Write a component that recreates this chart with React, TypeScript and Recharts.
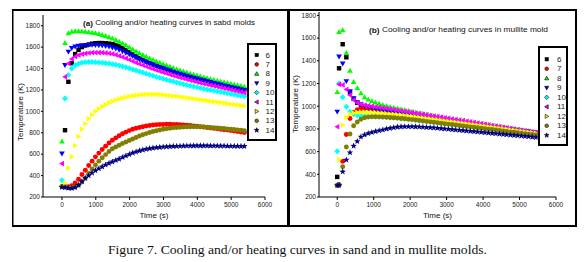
import React from 'react';
import { ScatterChart, Scatter, XAxis, YAxis } from 'recharts';

// ---------- series meta ----------
const seriesNames = ['6', '7', '8', '9', '10', '11', '12', '13', '14'];
const seriesColors = ['#000000', '#ff0000', '#00ff00', '#0000ff', '#00ffff', '#ff00ff', '#ffff00', '#808000', '#000080'];
const seriesShapes = ['square', 'circle', 'up', 'down', 'diamond', 'left', 'right', 'circle', 'star'];

// ---------- (a) sand molds ----------
const sandTimes = [0, 90, 190, 290, 390, 490, 590, 690, 790, 890,
  990, 1090, 1190, 1290, 1390, 1490, 1590, 1690, 1790, 1890,
  1990, 2090, 2190, 2290, 2390, 2490, 2590, 2690, 2790, 2890,
  2990, 3090, 3190, 3290, 3390, 3490, 3590, 3690, 3790, 3890,
  3990, 4090, 4190, 4290, 4390, 4490, 4590, 4690, 4790, 4890,
  4990, 5090, 5190, 5290, 5390];

const sand6 = [null, 824, 1276, 1450, 1535, 1575, 1600, 1615, 1625, 1632,
  1636, 1638, 1638, 1636, 1633, 1628, 1620, 1608, 1592, 1573,
  1552, 1532, 1514, 1497, 1481, 1466, 1452, 1439, 1427, 1415,
  1404, 1394, 1384, 1374, 1364, 1354, 1345, 1336, 1327, 1318,
  1309, 1301, 1293, 1285, 1277, 1269, 1261, 1253, 1246, 1239,
  1232, 1225, 1218, 1211, 1204];
const sand7 = [300, 297, 295, 305, 330, 365, 410, 450, 495, 535,
  575, 610, 643, 675, 705, 730, 752, 772, 790, 806,
  820, 832, 842, 850, 857, 863, 868, 872, 875, 877,
  878, 879, 879, 878, 877, 875, 873, 870, 867, 864,
  860, 857, 853, 849, 845, 841, 837, 833, 829, 825,
  821, 817, 812, 808, 803];
const sand8 = [720, 1640, 1730, 1745, 1750, 1750, 1748, 1745, 1741, 1736,
  1730, 1723, 1715, 1705, 1694, 1682, 1668, 1652, 1636, 1618,
  1598, 1578, 1560, 1543, 1527, 1511, 1496, 1482, 1468, 1455,
  1442, 1430, 1418, 1406, 1395, 1384, 1374, 1364, 1354, 1345,
  1336, 1327, 1318, 1310, 1302, 1294, 1286, 1279, 1272, 1265,
  1258, 1251, 1244, 1237, 1230];
const sand9 = [606, 1432, 1557, 1590, 1605, 1612, 1616, 1618, 1620, 1620,
  1619, 1617, 1614, 1610, 1604, 1596, 1586, 1574, 1561, 1547,
  1532, 1516, 1500, 1485, 1471, 1458, 1446, 1434, 1422, 1411,
  1400, 1390, 1380, 1370, 1360, 1350, 1341, 1332, 1323, 1314,
  1305, 1297, 1289, 1281, 1273, 1265, 1257, 1249, 1241, 1234,
  1227, 1220, 1213, 1206, 1199];
const sand10 = [356, 1120, 1339, 1400, 1430, 1445, 1453, 1458, 1460, 1460,
  1459, 1457, 1454, 1450, 1446, 1441, 1435, 1428, 1420, 1411,
  1402, 1392, 1382, 1372, 1362, 1352, 1342, 1332, 1322, 1313,
  1304, 1295, 1286, 1278, 1270, 1262, 1254, 1246, 1239, 1232,
  1225, 1218, 1211, 1205, 1199, 1193, 1187, 1181, 1175, 1169,
  1163, 1157, 1151, 1145, 1139];
const sand11 = [512, 1323, 1448, 1490, 1512, 1525, 1535, 1541, 1545, 1548,
  1549, 1549, 1548, 1546, 1542, 1536, 1528, 1518, 1507, 1495,
  1482, 1469, 1456, 1443, 1431, 1419, 1407, 1396, 1385, 1374,
  1364, 1354, 1344, 1334, 1325, 1316, 1307, 1298, 1290, 1282,
  1274, 1266, 1258, 1251, 1244, 1237, 1230, 1223, 1216, 1209,
  1202, 1195, 1188, 1181, 1174];
const sand12 = [295, 330, 470, 575, 680, 765, 835, 885, 930, 968,
  1000, 1024, 1045, 1063, 1079, 1093, 1105, 1115, 1124, 1132,
  1139, 1145, 1150, 1153, 1156, 1158, 1159, 1159, 1158, 1156,
  1153, 1150, 1147, 1143, 1139, 1135, 1131, 1127, 1122, 1118,
  1113, 1109, 1104, 1100, 1095, 1091, 1086, 1082, 1077, 1073,
  1068, 1064, 1059, 1055, 1050];
const sand13 = [295, 290, 285, 286, 292, 310, 340, 378, 420, 462,
  500, 535, 566, 596, 625, 650, 667, 683, 699, 713,
  727, 742, 756, 769, 781, 792, 802, 811, 819, 826,
  832, 837, 842, 846, 849, 852, 854, 855, 856, 856,
  856, 855, 853, 851, 849, 847, 844, 842, 839, 836,
  833, 830, 827, 823, 819];
const sand14 = [292, 290, 283, 281, 290, 312, 345, 375, 400, 425,
  448, 465, 483, 500, 515, 529, 542, 555, 570, 585,
  598, 612, 622, 632, 640, 647, 653, 658, 662, 665,
  668, 670, 672, 674, 675, 676, 677, 678, 678, 679,
  679, 679, 679, 679, 678, 678, 678, 677, 677, 676,
  676, 675, 675, 674, 674];

// ---------- (b) mullite mold ----------
const mulliteTimes = [0, 50, 150, 250, 350, 450, 550, 650, 750, 850,
  950, 1050, 1150, 1250, 1350, 1450, 1550, 1650, 1750, 1850,
  1950, 2050, 2150, 2250, 2350, 2450, 2550, 2650, 2750, 2850,
  2950, 3050, 3150, 3250, 3350, 3450, 3550, 3650, 3750, 3850,
  3950, 4050, 4150, 4250, 4350, 4450, 4550, 4650, 4750, 4850,
  4950, 5050, 5150, 5250, 5350, 5450];

const mull6 = [377, 1334, 1546, 1431, 1120, 1065, 1030, 1012, 1000, 992,
  973, 968, 962, 956, 950, 944, 938, 932, 926, 920,
  914, 908, 903, 898, 893, 888, 883, 878, 873, 868,
  863, 858, 853, 849, 845, 841, 837, 833, 829, 825,
  821, 817, 813, 809, 805, 801, 797, 793, 789, 785,
  781, 777, 773, 769, 765, 761];
const mull7 = [300, 303, 515, 751, 892, 945, 970, 978, 980, 978,
  975, 970, 964, 958, 952, 946, 940, 934, 928, 922,
  916, 910, 905, 900, 895, 890, 885, 880, 875, 870,
  865, 860, 855, 851, 847, 843, 839, 835, 831, 827,
  823, 819, 815, 811, 807, 803, 799, 795, 791, 787,
  783, 779, 775, 771, 767, 763];
const mull8 = [1125, 1655, 1670, 1470, 1313, 1215, 1160, 1115, 1080, 1060,
  1045, 1033, 1022, 1012, 1003, 995, 988, 981, 974, 967,
  960, 953, 946, 940, 934, 928, 922, 916, 910, 904,
  898, 892, 887, 882, 877, 872, 867, 862, 857, 852,
  847, 842, 837, 832, 827, 822, 817, 812, 807, 802,
  797, 792, 787, 782, 777, 772];
const mull9 = [951, 1437, 1375, 1220, 1130, 1070, 1035, 1015, 1002, 993,
  985, 978, 971, 965, 959, 953, 947, 941, 935, 929,
  923, 917, 911, 906, 901, 896, 891, 886, 881, 876,
  871, 866, 861, 856, 852, 848, 844, 840, 836, 832,
  828, 824, 820, 816, 812, 808, 804, 800, 796, 792,
  788, 784, 780, 776, 772, 768];
const mull10 = [603, 1201, 1078, 995, 951, 930, 920, 915, 913, 912,
  911, 910, 908, 906, 904, 901, 898, 895, 892, 889,
  886, 883, 879, 875, 871, 867, 863, 859, 855, 851,
  847, 843, 839, 835, 831, 827, 823, 819, 815, 811,
  807, 803, 799, 795, 791, 787, 783, 779, 775, 771,
  767, 763, 759, 755, 752, 749];
const mull11 = [819, 1193, 1187, 1148, 1098, 1054, 1030, 1018, 1010, 1005,
  1000, 995, 990, 985, 980, 975, 970, 965, 960, 955,
  950, 945, 939, 934, 929, 924, 918, 913, 908, 903,
  898, 892, 887, 882, 877, 872, 866, 861, 856, 851,
  846, 840, 835, 830, 825, 820, 814, 809, 804, 799,
  794, 788, 783, 778, 773, 768];
const mull12 = [300, 530, 835, 901, 930, 940, 945, 947, 947, 946,
  945, 943, 940, 937, 934, 931, 928, 925, 922, 918,
  914, 910, 905, 901, 897, 892, 888, 883, 879, 875,
  870, 866, 861, 857, 853, 848, 844, 839, 835, 831,
  826, 822, 817, 813, 809, 804, 800, 795, 791, 787,
  782, 778, 773, 769, 765, 760];
const mull13 = [303, 310, 467, 640, 755, 827, 860, 885, 898, 904,
  906, 907, 906, 905, 903, 901, 898, 895, 892, 889,
  886, 882, 878, 874, 870, 866, 862, 858, 854, 850,
  846, 842, 838, 834, 830, 826, 822, 818, 814, 810,
  806, 802, 798, 794, 790, 786, 782, 778, 774, 770,
  766, 762, 758, 754, 750, 746];
const mull14 = [303, 306, 423, 527, 591, 650, 690, 730, 748, 760,
  770, 778, 785, 792, 800, 806, 812, 817, 819, 820,
  820, 820, 819, 818, 816, 814, 812, 810, 807, 804,
  801, 798, 795, 792, 789, 786, 783, 780, 777, 774,
  771, 768, 765, 762, 759, 756, 753, 750, 747, 744,
  741, 738, 735, 732, 729, 726];

// ---------- ticks ----------
const xTicks = [0, 1000, 2000, 3000, 4000, 5000, 6000];
const xMinorTicks = [0, 500, 1000, 1500, 2000, 2500, 3000, 3500, 4000, 4500, 5000, 5500, 6000];
const yTicks = [200, 400, 600, 800, 1000, 1200, 1400, 1600, 1800];
const yMinorTicks = [200, 300, 400, 500, 600, 700, 800, 900, 1000, 1100, 1200, 1300, 1400, 1500, 1600, 1700, 1800];

const sandSeries = [sand6, sand7, sand8, sand9, sand10, sand11, sand12, sand13, sand14];
const mulliteSeries = [mull6, mull7, mull8, mull9, mull10, mull11, mull12, mull13, mull14];

const FONT = "'Liberation Sans', Arial, Helvetica, sans-serif";

function toPoints(times: number[], vals: (number | null)[]) {
  return times.map((t, i) => ({ t, v: vals[i] })).filter((p) => p.v != null);
}

function Marker({ kind, cx, cy, color, r, stroke }: any) {
  if (cx == null || cy == null || isNaN(cx) || isNaN(cy)) return null;
  const sw = stroke ? 0.6 : 0;
  const st = stroke ? '#000' : 'none';
  switch (kind) {
    case 'square':
      return <rect x={cx - r * 0.85} y={cy - r * 0.85} width={r * 1.7} height={r * 1.7} fill={color} stroke={st} strokeWidth={sw} />;
    case 'circle':
      return <circle cx={cx} cy={cy} r={r * 0.95} fill={color} stroke={st} strokeWidth={sw} />;
    case 'up':
      return <polygon points={`${cx},${cy - r * 1.1} ${cx + r * 1.1},${cy + r * 0.8} ${cx - r * 1.1},${cy + r * 0.8}`} fill={color} stroke={st} strokeWidth={sw} />;
    case 'down':
      return <polygon points={`${cx},${cy + r * 1.1} ${cx + r * 1.1},${cy - r * 0.8} ${cx - r * 1.1},${cy - r * 0.8}`} fill={color} stroke={st} strokeWidth={sw} />;
    case 'left':
      return <polygon points={`${cx - r * 1.1},${cy} ${cx + r * 0.8},${cy - r * 1.1} ${cx + r * 0.8},${cy + r * 1.1}`} fill={color} stroke={st} strokeWidth={sw} />;
    case 'right':
      return <polygon points={`${cx + r * 1.1},${cy} ${cx - r * 0.8},${cy - r * 1.1} ${cx - r * 0.8},${cy + r * 1.1}`} fill={color} stroke={st} strokeWidth={sw} />;
    case 'diamond':
      return <polygon points={`${cx},${cy - r * 1.15} ${cx + r * 1.15},${cy} ${cx},${cy + r * 1.15} ${cx - r * 1.15},${cy}`} fill={color} stroke={st} strokeWidth={sw} />;
    case 'star': {
      const pts: string[] = [];
      for (let k = 0; k < 10; k++) {
        const ang = -Math.PI / 2 + (k * Math.PI) / 5;
        const rr = k % 2 === 0 ? r * 1.3 : r * 0.55;
        pts.push(`${cx + rr * Math.cos(ang)},${cy + rr * Math.sin(ang)}`);
      }
      return <polygon points={pts.join(' ')} fill={color} stroke={st} strokeWidth={sw} />;
    }
    default:
      return null;
  }
}

function Panel({ times, series, xDomain, yDomain, width, height, margin, yAxisWidth }: any) {
  const tickStyle = { fontSize: 6.5, fill: '#222', fontFamily: FONT };
  return (
    <ScatterChart width={width} height={height} margin={margin}>
      <XAxis
        dataKey="t"
        type="number"
        domain={xDomain}
        ticks={xTicks}
        interval={0}
        allowDataOverflow
        height={28}
        tickSize={3}
        tickMargin={2}
        tick={tickStyle}
        stroke="#000"
        axisLine={{ stroke: '#000', strokeWidth: 1 }}
        tickLine={{ stroke: '#000' }}
      />
      <XAxis
        xAxisId="top"
        orientation="top"
        type="number"
        domain={xDomain}
        ticks={xMinorTicks}
        interval={0}
        allowDataOverflow
        height={0}
        mirror
        tick={false}
        tickSize={3}
        stroke="#000"
      />
      <YAxis
        dataKey="v"
        type="number"
        domain={yDomain}
        ticks={yTicks}
        interval={0}
        allowDataOverflow
        width={yAxisWidth}
        tickSize={2}
        tickMargin={1}
        tick={tickStyle}
        stroke="#000"
      />
      <YAxis
        yAxisId="right"
        orientation="right"
        type="number"
        domain={yDomain}
        ticks={yMinorTicks}
        interval={0}
        allowDataOverflow
        width={0}
        mirror
        tick={false}
        tickSize={2}
        stroke="#000"
      />
      {series.map((vals: (number | null)[], i: number) => (
        <Scatter
          key={seriesNames[i]}
          name={seriesNames[i]}
          data={toPoints(times, vals)}
          isAnimationActive={false}
          fill={seriesColors[i]}
          shape={(p: any) => <Marker kind={seriesShapes[i]} cx={p.cx} cy={p.cy} color={seriesColors[i]} r={2.6} />}
        />
      ))}
    </ScatterChart>
  );
}

function LegendBox({ left, top, w, h, firstRow, gap, markerX, textX }: any) {
  return (
    <svg style={{ position: 'absolute', left, top }} width={w} height={h}>
      <rect x={1} y={1} width={w - 2} height={h - 2} fill="#fff" stroke="#000" strokeWidth={2} />
      {seriesNames.map((n, i) => (
        <g key={n}>
          <Marker kind={seriesShapes[i]} cx={markerX} cy={firstRow + i * gap} color={seriesColors[i]} r={1.9} stroke />
          <text x={textX} y={firstRow + i * gap} dominantBaseline="central" fontSize={8} fontFamily={FONT} fill="#222">
            {n}
          </text>
        </g>
      ))}
    </svg>
  );
}

export default function App() {
  return (
    <div style={{ position: 'absolute', left: 0, top: 0, width: 587, height: 262, background: '#fff', overflow: 'hidden' }}>
      <div style={{ position: 'absolute', left: 12, top: 10 }}>
        <Panel
          times={sandTimes}
          series={sandSeries}
          xDomain={[-560, 6000]}
          yDomain={[200, 1900]}
          width={275}
          height={215}
          margin={{ top: 5, right: 22, bottom: 0, left: 0 }}
          yAxisWidth={31}
        />
      </div>
      <div style={{ position: 'absolute', left: 290, top: 10 }}>
        <Panel
          times={mulliteTimes}
          series={mulliteSeries}
          xDomain={[-500, 6000]}
          yDomain={[200, 1830]}
          width={285}
          height={215}
          margin={{ top: 2, right: 19, bottom: 0, left: 0 }}
          yAxisWidth={29}
        />
      </div>

      <svg style={{ position: 'absolute', left: 0, top: 0, pointerEvents: 'none' }} width={587} height={262}>
        {/* frames */}
        <rect x={12} y={9} width={565} height={2} fill="#000" />
        <rect x={12} y={225} width={565} height={2} fill="#000" />
        <rect x={12} y={9} width={1.5} height={218} fill="#000" />
        <rect x={287} y={9} width={3} height={218} fill="#000" />
        <rect x={575} y={9} width={2} height={218} fill="#000" />

        {/* titles */}
        <text x={83} y={22.5} dominantBaseline="central" fontSize={7.6} fontFamily={FONT} fill="#111" textLength={172} lengthAdjust="spacingAndGlyphs">
          <tspan fontWeight="bold">(a)</tspan> Cooling and/or heating curves in sabd molds
        </text>
        <text x={369} y={29.5} dominantBaseline="central" fontSize={7.6} fontFamily={FONT} fill="#111" textLength={179} lengthAdjust="spacingAndGlyphs">
          <tspan fontWeight="bold">(b)</tspan> Cooling and/or heating curves in mullite mold
        </text>

        {/* axis titles */}
        <text transform="translate(20,112) rotate(-90)" textAnchor="middle" dominantBaseline="central" fontSize={8} fontFamily={FONT} fill="#111">
          Temperature (K)
        </text>
        <text transform="translate(295,104) rotate(-90)" textAnchor="middle" dominantBaseline="central" fontSize={8} fontFamily={FONT} fill="#111">
          Temperature (K)
        </text>
        <text x={154} y={215.5} textAnchor="middle" dominantBaseline="central" fontSize={8} fontFamily={FONT} fill="#111">
          Time (s)
        </text>
        <text x={437.5} y={215.5} textAnchor="middle" dominantBaseline="central" fontSize={8} fontFamily={FONT} fill="#111">
          Time (s)
        </text>

        {/* caption */}
        <text x={297.5} y={250} textAnchor="middle" dominantBaseline="central" fontSize={11.5} fontFamily="'Liberation Serif', 'Times New Roman', serif" fill="#111" textLength={379} lengthAdjust="spacingAndGlyphs">
          Figure 7. Cooling and/or heating curves in sand and in mullite molds.
        </text>
      </svg>

      <LegendBox left={247} top={43} w={30} h={98} firstRow={12} gap={9.4} markerX={9.7} textX={18.5} />
      <LegendBox left={538} top={46} w={30} h={100} firstRow={13.3} gap={9.5} markerX={8.7} textX={19} />
    </div>
  );
}
